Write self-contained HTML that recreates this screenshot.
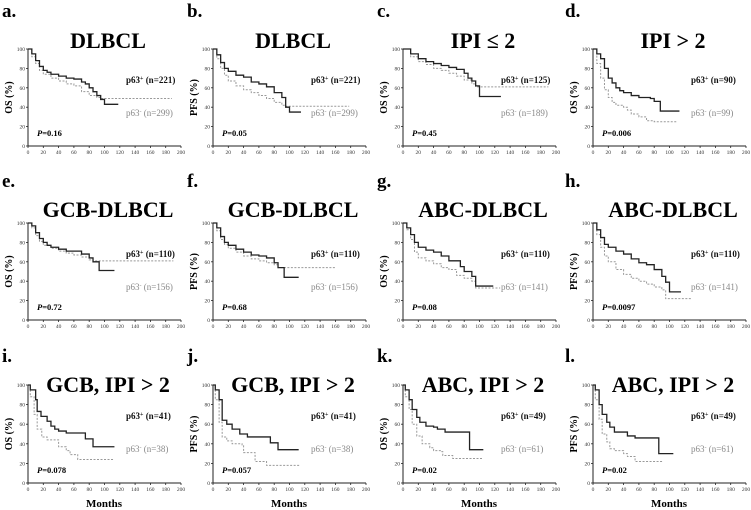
<!DOCTYPE html>
<html><head><meta charset="utf-8"><style>
html,body{margin:0;padding:0;background:#fff;}
svg{display:block;font-family:"Liberation Serif",serif;}
</style></head><body>
<svg id="fig" width="751" height="510" viewBox="0 0 751 510"></svg>
<script>
const xTicks=[0,20,40,60,80,100,120,140,160,180,200];
const yTicks=[0,20,40,60,80,100];
const a_posT=[0,5,10,15,20,25,30,40,50,60,70,75,80,85,90,95,100,118];
const a_posS=[100,95,88,82,78,76,74,72,70,69,66,64,60,56,52,48,43,43];
const a_negT=[0,5,10,15,20,30,40,50,60,70,80,90,95,188];
const a_negS=[100,92,85,78,74,70,67,64,62,56,52,50,49,49];
const b_posT=[0,5,10,15,20,30,40,50,60,70,80,90,95,100,115];
const b_posS=[100,94,86,80,77,73,71,66,64,61,55,50,40,35,35];
const b_negT=[0,5,10,15,20,30,40,50,60,70,80,90,95,178];
const b_negS=[100,90,80,73,67,62,58,55,52,49,45,42,41,41];
const c_posT=[0,10,20,30,40,50,60,70,80,85,90,95,100,128];
const c_posS=[100,95,90,87,85,83,81,79,75,70,67,62,51,51];
const c_negT=[0,10,20,30,40,50,60,70,80,90,95,190];
const c_negS=[100,92,87,84,80,78,75,72,68,64,61,61];
const d_posT=[0,5,10,15,20,25,30,35,40,50,60,75,80,88,113];
const d_posS=[100,95,90,80,70,65,60,57,55,52,50,49,46,36,36];
const d_negT=[0,5,10,15,20,25,30,40,45,50,60,70,80,110];
const d_negS=[100,85,70,58,50,45,42,40,37,33,30,26,25,25];
const e_posT=[0,5,10,15,20,25,30,40,50,60,70,80,85,93,113];
const e_posS=[100,97,90,84,80,77,75,73,71,71,68,64,60,51,51];
const e_negT=[0,5,10,15,20,30,40,50,60,70,80,85,190];
const e_negS=[100,95,87,81,77,74,71,69,67,65,62,61,61];
const f_posT=[0,5,10,15,20,30,40,50,60,70,80,85,93,112];
const f_posS=[100,95,86,80,77,73,70,67,66,64,59,54,44,44];
const f_negT=[0,5,10,15,20,30,40,50,60,70,80,85,160];
const f_negS=[100,92,83,78,74,70,66,63,61,59,57,54,54];
const g_posT=[0,5,10,15,20,30,40,50,60,75,80,90,95,118];
const g_posS=[100,95,88,80,75,72,70,66,61,55,50,45,35,35];
const g_negT=[0,5,10,15,20,30,40,50,60,70,80,90,95,127];
const g_negS=[100,93,83,70,64,61,58,54,52,46,43,40,33,33];
const h_posT=[0,5,10,15,20,30,40,50,60,70,80,90,95,100,115];
const h_posS=[100,93,85,78,75,71,68,63,59,57,52,45,39,29,29];
const h_negT=[0,5,10,15,20,30,40,50,60,70,80,90,95,128];
const h_negS=[100,88,75,66,60,52,47,43,40,37,34,31,22,22];
const i_posT=[0,3,10,12,17,25,30,35,40,50,70,75,85,113];
const i_posS=[100,95,85,73,68,63,58,55,53,51,51,45,37,37];
const i_negT=[0,3,8,12,18,25,35,40,50,55,65,113];
const i_negS=[100,88,70,55,47,44,44,37,33,29,24,24];
const j_posT=[0,3,8,12,18,25,35,45,70,75,85,112];
const j_posS=[100,95,85,64,60,55,50,47,47,41,34,34];
const j_negT=[0,3,8,12,18,25,38,40,52,55,70,113];
const j_negS=[100,85,62,47,43,40,38,31,31,22,18,18];
const k_posT=[0,3,8,12,18,22,30,40,45,55,75,87,105];
const k_posS=[100,95,85,75,67,62,58,57,55,52,52,34,34];
const k_negT=[0,3,8,12,18,25,35,40,50,52,65,105];
const k_negS=[100,88,75,60,48,40,36,33,32,28,25,25];
const l_posT=[0,3,8,12,18,22,28,40,45,55,85,86,105];
const l_posS=[100,95,80,70,62,57,52,52,48,46,46,30,30];
const l_negT=[0,3,8,12,18,22,28,40,45,55,92];
const l_negS=[100,85,65,50,42,35,33,30,27,22,22];
const panelLetters=["a","b","c","d","e","f","g","h","i","j","k","l"];
const panelTitles=["DLBCL","DLBCL","IPI \u2264 2","IPI > 2","GCB-DLBCL","GCB-DLBCL","ABC-DLBCL","ABC-DLBCL","GCB, IPI > 2","GCB, IPI > 2","ABC, IPI > 2","ABC, IPI > 2"];
const yLabels=["OS (%)","PFS (%)","OS (%)","OS (%)","OS (%)","PFS (%)","OS (%)","PFS (%)","OS (%)","PFS (%)","OS (%)","PFS (%)"];
const posN=[221,221,125,90,110,110,110,110,41,41,49,49];
const negN=[299,299,189,99,156,156,141,141,38,38,61,61];
const pValues=["0.16","0.05","0.45","0.006","0.72","0.68","0.08","0.0097","0.078","0.057","0.02","0.02"];
const posTs=[a_posT,b_posT,c_posT,d_posT,e_posT,f_posT,g_posT,h_posT,i_posT,j_posT,k_posT,l_posT];
const posSs=[a_posS,b_posS,c_posS,d_posS,e_posS,f_posS,g_posS,h_posS,i_posS,j_posS,k_posS,l_posS];
const negTs=[a_negT,b_negT,c_negT,d_negT,e_negT,f_negT,g_negT,h_negT,i_negT,j_negT,k_negT,l_negT];
const negSs=[a_negS,b_negS,c_negS,d_negS,e_negS,f_negS,g_negS,h_negS,i_negS,j_negS,k_negS,l_negS];

const NS="http://www.w3.org/2000/svg";
const svg=document.getElementById('fig');
const colX=[28,213,403,593], W=153;
const rowTop=[49,223,385], rowBot=[146,320,483];
const letterX=[2,187,377,565], letterY=[17,187,362];
const titleY=[48,217,392];
function mk(tag,attrs,parent){const e=document.createElementNS(NS,tag);for(const k in attrs)e.setAttribute(k,attrs[k]);(parent||svg).appendChild(e);return e;}
function stepPath(ts,ss,sx,sy){let d="M"+sx(ts[0])+","+sy(ss[0]);for(let i=1;i<ts.length;i++){d+=" H"+sx(ts[i])+" V"+sy(ss[i]);}return d;}

for(let p=0;p<12;p++){
  const r=Math.floor(p/4), c=p%4;
  const x0=colX[c], y0=rowBot[r], y1=rowTop[r];
  const sx=t=>x0+t/200*W;
  const sy=s=>y0-(s/100)*(y0-y1);
  const g=mk('g',{});
  
  
  const lt=mk('text',{x:letterX[c],y:letterY[r],'font-size':19,'font-weight':'bold',fill:'#000'},g);
  lt.textContent=panelLetters[p]+".";
  
  
  const tt=mk('text',{x:x0+80,y:titleY[r],'font-size':22,'font-weight':'bold','text-anchor':'middle',fill:'#000'},g);
  tt.textContent=panelTitles[p];
  
  
  const ax=mk('path',{d:`M${x0},${y1} V${y0} H${x0+W}`,stroke:'#222',fill:'none','stroke-width':1},g);
  
  
  xTicks.forEach(t=>{
    mk('line',{x1:sx(t),x2:sx(t),y1:y0,y2:y0+2,stroke:'#222','stroke-width':0.8},g);
    const tl=mk('text',{x:sx(t),y:y0+8,'font-size':5.5,'text-anchor':'middle',fill:'#333'},g);
    tl.textContent=t;
    
    
  });
  yTicks.forEach(v=>{
    mk('line',{x1:x0-2,x2:x0,y1:sy(v),y2:sy(v),stroke:'#222','stroke-width':0.8},g);
    const tl=mk('text',{x:x0-3,y:sy(v)+2,'font-size':5.5,'text-anchor':'end',fill:'#333'},g);
    tl.textContent=v;
    
    
  });
  const yl=mk('text',{x:0,y:0,'font-size':10,'font-weight':'bold','text-anchor':'middle',fill:'#000',transform:`translate(${x0-16},${(y0+y1)/2}) rotate(-90)`},g);
  yl.textContent=yLabels[p];
  
  
  const ng=mk('path',{d:stepPath(negTs[p],negSs[p],sx,sy),stroke:'#999',fill:'none','stroke-width':1,'stroke-dasharray':'2,1.5'},g);
  
  
  const ps=mk('path',{d:stepPath(posTs[p],posSs[p],sx,sy),stroke:'#222',fill:'none','stroke-width':1.3},g);
  
  
  const pl=mk('text',{x:x0+98,y:y1+34,'font-size':9,'font-weight':'bold',fill:'#111'},g);
  pl.innerHTML=`p63<tspan dy="-3" font-size="6">+</tspan><tspan dy="3"> (n=${posN[p]})</tspan>`;
  
  
  const nl=mk('text',{x:x0+98,y:y1+67,'font-size':9,fill:'#888'},g);
  nl.innerHTML=`p63<tspan dy="-3" font-size="6">-</tspan><tspan dy="3"> (n=${negN[p]})</tspan>`;
  
  
  const pv=mk('text',{x:x0+9,y:y0-10,'font-size':8.5,'font-weight':'bold',fill:'#000'},g);
  pv.innerHTML=`<tspan font-style="italic">P</tspan>=${pValues[p]}`;
  
  
  if(r===2){
    const ml=mk('text',{x:x0+76,y:507,'font-size':11,'font-weight':'bold','text-anchor':'middle',fill:'#000'},g);
    ml.textContent="Months";
    
    
  }
}
</script>
</body></html>
